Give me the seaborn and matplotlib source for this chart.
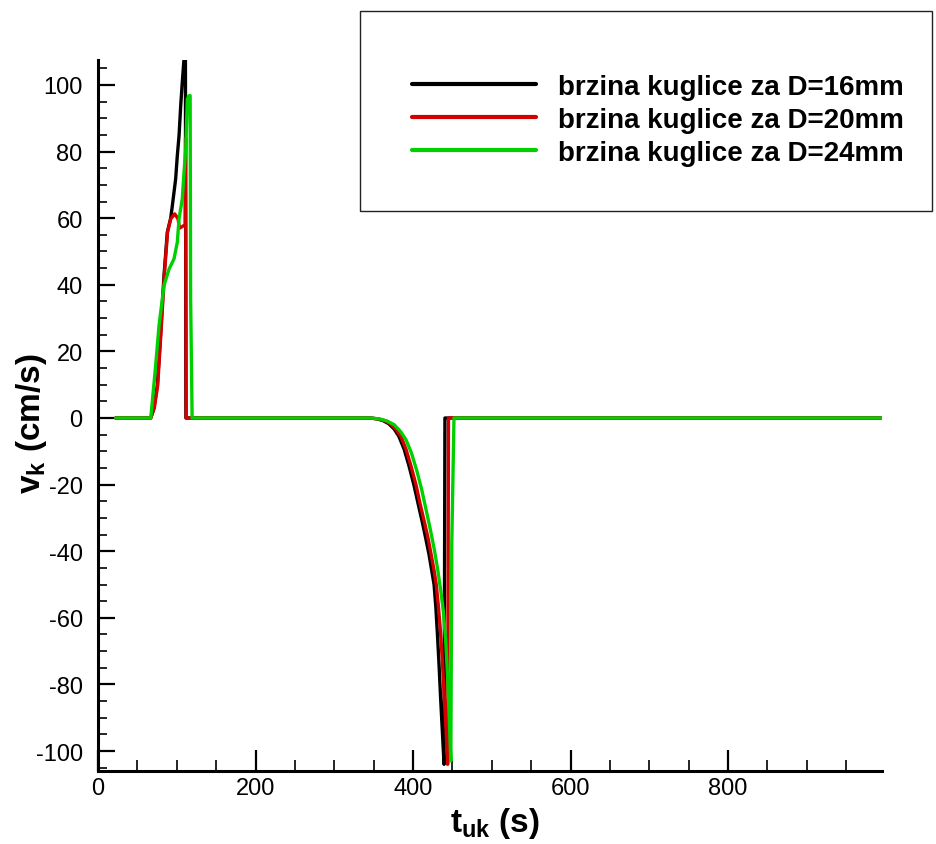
import numpy as np
import pandas as pd
import matplotlib
matplotlib.use("Agg")
import matplotlib.pyplot as plt
from matplotlib.patches import Rectangle
from matplotlib.ticker import MultipleLocator
import seaborn as sns

# ---------------- data ----------------
labels = ["brzina kuglice za D=16mm", "brzina kuglice za D=20mm", "brzina kuglice za D=24mm"]
colors = ["#000000", "#d40000", "#00d000"]

t_16 = [22.5, 67, 71, 75.3, 79.6, 83.8, 88, 92.3, 94.4, 98.6, 100.7, 102.9, 105, 107, 109.2, 111, 111.6,
        346, 355, 362, 369, 376, 382, 388.6, 395, 401.3, 406.5, 411.8, 416, 420.3, 423.5, 426.7,
        429, 431, 433, 435, 437.2, 439.4, 440.5, 994]
v_16 = [0, 0, 3, 9.8, 25.8, 42.8, 55.8, 60, 63.8, 71.8, 78.8, 84.8, 93.8, 100.8, 107.8, 107.8, 0,
        0, -0.3, -0.8, -1.7, -3.3, -5.5, -9.3, -14.5, -20.3, -25.8, -31.3, -36, -41, -45.5, -50,
        -57, -65, -74, -84, -94, -104, 0, 0]

t_20 = [22.5, 67, 71.5, 75.8, 80, 84.2, 88.3, 92.3, 97.4, 101.6, 103.5, 110.5, 111.2, 112,
        346, 356, 364, 371, 378, 384.5, 391, 397.5, 404, 409, 414.5, 419, 423, 426.5, 429.5,
        432, 434.5, 437, 439.5, 442, 444, 445, 994]
v_20 = [0, 0, 3, 9.8, 25.8, 42.8, 55.8, 59.8, 61.3, 59.8, 57, 58, 84, 0,
        0, -0.3, -0.8, -1.7, -3.3, -5.5, -9.3, -14.5, -20.3, -25.8, -31.3, -36, -41, -45.5, -50,
        -56, -63, -72, -83, -94, -104, 0, 0]

t_24 = [22.5, 67, 73.2, 77.5, 83.8, 90.2, 96.5, 100.7, 102.9, 107, 109.2, 111.4, 113.4, 115.6, 117, 117.6, 119.5,
        346, 358, 367, 376, 384, 391, 398, 405, 411, 417, 422, 427, 431, 435, 438.5, 441.5,
        444, 446, 448, 449.2, 452, 994]
v_24 = [0, 0, 15.8, 27.8, 39.8, 44.7, 47.8, 52.8, 59.8, 65.8, 73.8, 80.8, 95.8, 96.8, 96.8, 36, 0,
        0, -0.3, -0.9, -2, -4, -6.5, -10.5, -16, -21.5, -28, -33.5, -39.5, -45, -51.5, -58, -67,
        -78, -90, -103, -38, 0, 0]

x_ticks = [0, 200, 400, 600, 800]
y_ticks = [-100, -80, -60, -40, -20, 0, 20, 40, 60, 80, 100]

# ---------------- build frame ----------------
frames = []
for lab, t, v in zip(labels, [t_16, t_20, t_24], [v_16, v_20, v_24]):
    frames.append(pd.DataFrame({"t": t, "v": v, "serija": lab}))
df = pd.concat(frames, ignore_index=True)

sns.set_style("ticks")
plt.rcParams["font.family"] = ["Liberation Sans", "DejaVu Sans"]
plt.rcParams["axes.unicode_minus"] = False
plt.rcParams["mathtext.fontset"] = "custom"
plt.rcParams["mathtext.rm"] = "Liberation Sans"
plt.rcParams["mathtext.bf"] = "Liberation Sans:bold"
plt.rcParams["text.color"] = "black"
plt.rcParams["axes.labelcolor"] = "black"

fig = plt.figure(figsize=(9.37, 8.45), dpi=100)
ax = fig.add_axes([0.1046, 0.0864, 0.8363, 0.8414])

sns.lineplot(data=df, x="t", y="v", hue="serija", palette=dict(zip(labels, colors)),
             hue_order=labels, sort=False, estimator=None, units="serija",
             linewidth=2.4, legend=False, ax=ax)

ax.set_xlim(0, 995)
ax.set_ylim(-106, 107.5)
ax.set_xticks(x_ticks)
ax.set_yticks(y_ticks)
ax.xaxis.set_minor_locator(MultipleLocator(50))
ax.yaxis.set_minor_locator(MultipleLocator(5))

for s in ["top", "right"]:
    ax.spines[s].set_visible(False)
for s in ["left", "bottom"]:
    ax.spines[s].set_linewidth(2.2)
    ax.spines[s].set_color("black")

ax.tick_params(axis="x", which="major", direction="in", length=15, width=1.6, pad=4, labelsize=17,
               colors="black")
ax.tick_params(axis="x", which="minor", direction="in", length=8, width=1.2, colors="black")
ax.tick_params(axis="y", which="major", direction="in", length=12, width=1.6, pad=11, labelsize=17,
               colors="black")
ax.tick_params(axis="y", which="minor", direction="in", length=6.5, width=1.2, colors="black")

ax.set_xlabel(r"$\mathbf{t_{uk}}$ (s)", fontsize=24, fontweight="bold", color="black")
ax.set_ylabel(r"$\mathbf{v_k}$ (cm/s)", fontsize=24, fontweight="bold", color="black")
ax.xaxis.set_label_coords(0.507, -0.048)
ax.yaxis.set_label_coords(-0.062, 0.49)

# legend box
fig.patches.append(Rectangle((360 / 937, 1 - 212 / 845), 572 / 937, 200 / 845,
                             transform=fig.transFigure, fill=False, edgecolor="#222222", linewidth=1.0))
handles = ax.get_lines()[:3]
leg = fig.legend(handles, labels, loc="center left", bbox_to_anchor=(398 / 937, 1 - 121 / 845),
                 frameon=False, borderpad=0, handlelength=4.45, handletextpad=0.8,
                 labelspacing=0.25, prop={"family": "Liberation Sans", "weight": "bold", "size": 20})
for txt in leg.get_texts():
    txt.set_color("black")
for lh in leg.get_lines():
    lh.set_linewidth(3.0)

fig.savefig("out.png", dpi=100)
